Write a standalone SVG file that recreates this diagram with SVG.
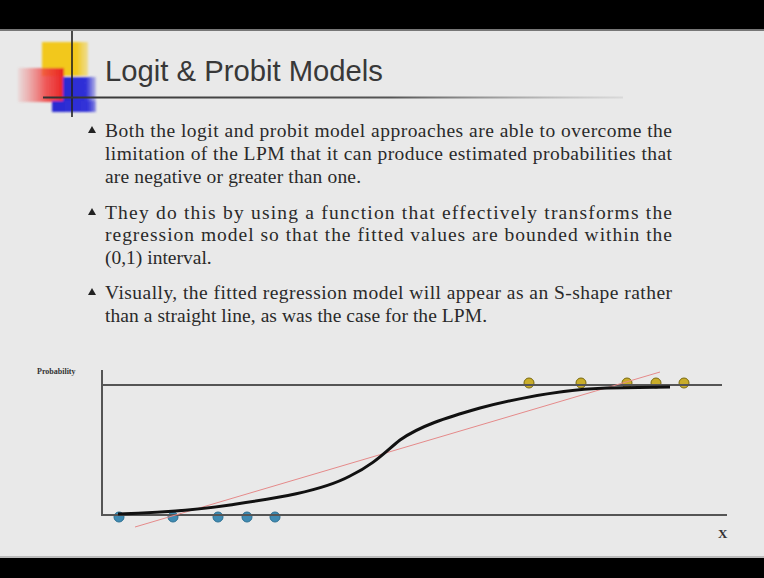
<svg xmlns="http://www.w3.org/2000/svg" width="764" height="578" viewBox="0 0 764 578">
  <defs>
    <linearGradient id="yellowFade" x1="0" y1="0" x2="1" y2="0">
      <stop offset="0" stop-color="#f2c81a"/>
      <stop offset="0.75" stop-color="#f2c81a"/>
      <stop offset="1" stop-color="#f2d040" stop-opacity="0.5"/>
    </linearGradient>
    <linearGradient id="redFade" x1="0" y1="0" x2="1" y2="0">
      <stop offset="0" stop-color="#f06060" stop-opacity="0.1"/>
      <stop offset="0.6" stop-color="#f04040" stop-opacity="0.85"/>
      <stop offset="1" stop-color="#e82020"/>
    </linearGradient>
    <linearGradient id="blueFade" x1="0" y1="0" x2="1" y2="0">
      <stop offset="0" stop-color="#2a2ad0"/>
      <stop offset="0.7" stop-color="#3030d8"/>
      <stop offset="1" stop-color="#3030d8" stop-opacity="0.25"/>
    </linearGradient>
    <linearGradient id="ruleFade" x1="0" y1="0" x2="1" y2="0">
      <stop offset="0" stop-color="#333"/>
      <stop offset="0.6" stop-color="#555"/>
      <stop offset="1" stop-color="#999" stop-opacity="0.2"/>
    </linearGradient>
    <filter id="soft" x="-20%" y="-20%" width="140%" height="140%">
      <feGaussianBlur stdDeviation="1.2"/>
    </filter>
  </defs>
  <style>
    .body { font-family: "Liberation Serif", "Times New Roman", serif; font-size: 19.5px; fill: #2a2a2a; }
    .title { font-family: "Liberation Sans", Arial, sans-serif; font-size: 30px; fill: #383838; }
    .axis { stroke: #555; stroke-width: 2; fill: none; }
    .bullet { fill: #222; }
    .lo { fill: #3f8bb3; stroke: #2b6f92; stroke-width: 1; }
    .hi { fill: #c9ad2a; stroke: #7a6a10; stroke-width: 1; }
  </style>

  <!-- slide background and frame bars -->
  <rect x="0" y="0" width="764" height="578" fill="#e9e9e9"/>
  <rect x="0" y="0" width="764" height="29" fill="#000"/>
  <rect x="0" y="29" width="764" height="2" fill="#777"/>
  <rect x="0" y="558" width="764" height="20" fill="#000"/>
  <rect x="0" y="556" width="764" height="2" fill="#bbb"/>

  <!-- title ornament -->
  <g id="logo">
    <g filter="url(#soft)">
      <rect x="42" y="42" width="46" height="34" fill="url(#yellowFade)"/>
      <rect x="18" y="68" width="46" height="34" fill="url(#redFade)"/>
      <rect x="63" y="77" width="33" height="35" fill="url(#blueFade)"/>
      <rect x="52" y="101" width="44" height="11" fill="url(#blueFade)"/>
    </g>
    <line x1="72" y1="31" x2="72" y2="117" stroke="#222" stroke-width="1.6"/>
  </g>
  <rect x="43" y="96.5" width="580" height="2" fill="url(#ruleFade)"/>

  <g id="title">
    <text class="title" x="105" y="81" textLength="278" lengthAdjust="spacingAndGlyphs">Logit &amp; Probit Models</text>
  </g>

  <!-- bullet list -->
  <g id="bullets">
    <polygon class="bullet" points="88,133 96,133 92,126"/>
    <text class="body" x="105" y="137" textLength="567" lengthAdjust="spacing">Both the logit and probit model approaches are able to overcome the</text>
    <text class="body" x="105" y="160" textLength="567" lengthAdjust="spacing">limitation of the LPM that it can produce estimated probabilities that</text>
    <text class="body" x="105" y="183" textLength="256" lengthAdjust="spacing">are negative or greater than one.</text>

    <polygon class="bullet" points="88,215 96,215 92,208"/>
    <text class="body" x="105" y="219" textLength="567" lengthAdjust="spacing">They do this by using a function that effectively transforms the</text>
    <text class="body" x="105" y="241" textLength="567" lengthAdjust="spacing">regression model so that the fitted values are bounded within the</text>
    <text class="body" x="105" y="264">(0,1) interval.</text>

    <polygon class="bullet" points="88,295 96,295 92,288"/>
    <text class="body" x="105" y="299" textLength="567" lengthAdjust="spacing">Visually, the fitted regression model will appear as an S-shape rather</text>
    <text class="body" x="105" y="322" textLength="382" lengthAdjust="spacing">than a straight line, as was the case for the LPM.</text>
  </g>

  <!-- chart: observed points -->
  <g id="points-high">
    <circle class="hi" cx="529" cy="383" r="5"/>
    <circle class="hi" cx="581" cy="383" r="5"/>
    <circle class="hi" cx="627" cy="383" r="5"/>
    <circle class="hi" cx="656" cy="383" r="5"/>
    <circle class="hi" cx="684" cy="383" r="5"/>
  </g>
  <g id="points-low">
    <circle class="lo" cx="119" cy="517" r="5"/>
    <circle class="lo" cx="173" cy="517" r="5"/>
    <circle class="lo" cx="218" cy="517" r="5"/>
    <circle class="lo" cx="247" cy="517" r="5"/>
    <circle class="lo" cx="275" cy="517" r="5"/>
  </g>

  <!-- chart: axes and fitted curves -->
  <g id="connectors">
    <path class="axis" d="M102,370 V515 H727"/>
    <line class="axis" x1="102" y1="385" x2="722" y2="385"/>
    <line x1="135" y1="527" x2="660" y2="372" stroke="#e58a8a" stroke-width="1"/>
    <path d="M118,514 C150,513 190,511 230,505 C270,499 320,492 350,476 C375,464 386,451 400,440 C420,426 445,418 480,408 C530,395 570,389 607,388 L670,387" fill="none" stroke="#111" stroke-width="3"/>
  </g>

  <g id="labels">
    <text x="37" y="374" font-family="Liberation Serif, serif" font-size="8" font-weight="bold" fill="#333">Probability</text>
    <text x="718" y="538" font-family="Liberation Serif, serif" font-size="13" font-weight="bold" fill="#333">X</text>
  </g>
</svg>
